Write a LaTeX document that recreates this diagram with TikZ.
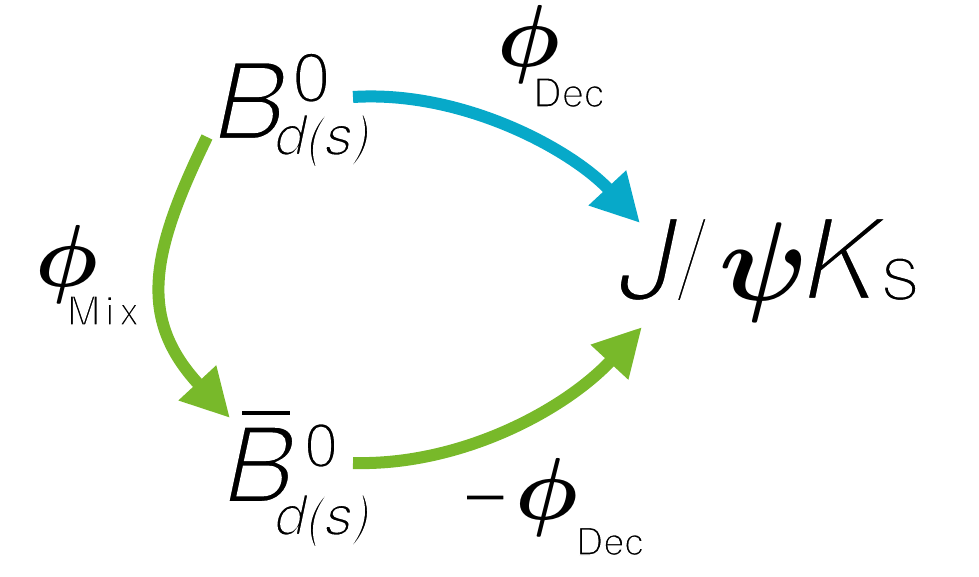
\documentclass[tikz,border=0pt]{standalone}
\usepackage{fontspec}
\setmainfont{TeX Gyre Heros}
\usetikzlibrary{arrows.meta}
\definecolor{decblue}{RGB}{7,169,201}
\definecolor{mixgreen}{RGB}{120,185,42}
\newcommand\fsz[1]{\fontsize{#1}{#1}\selectfont}
% thin the sans glyphs (Helvetica Light look): white outline over the fill
\newcommand\lite[1]{\special{pdf:literal direct 2 Tr 1 1 1 RG #1 w}}
\font\phifont=cmmib10 at 88pt
\font\psifont=cmmib10 at 112pt
\newcommand\myphi{{\phifont\char"1E}}
\newcommand\mypsi{{\psifont\char"20}}
\begin{document}
\begin{tikzpicture}[x=1pt,y=-1pt,
  lbl/.style={inner sep=0pt, outer sep=0pt, anchor=base west},
  flow/.style={line width=12pt, -{Triangle[length=48pt,width=48pt]}}]
\useasboundingbox (0,0) rectangle (979,576);

% B^0_{d(s)}
\node[lbl] (b) at (214,140) {\lite{4}\fsz{108}\itshape B};
\node[lbl] (bsup) at (292,102) {\lite{2.6}\fsz{70}0};
\node[lbl] (bsub) at (275,155) {\lite{2.2}\fsz{56}\itshape d(s)};

% \bar B^0_{d(s)}
\node[lbl] (bb) at (224,503) {\lite{4}\fsz{106}\itshape B};
\draw[line width=3.5pt] (242,413) -- (290,413);
\node[lbl] (bbsup) at (304,467) {\lite{2.4}\fsz{62}0};
\node[lbl] (bbsub) at (275,535) {\lite{2.2}\fsz{56}\itshape d(s)};

% J/psi K_S
\node[lbl] (fj) at (619,300) {\lite{4.2}\fsz{114}\itshape J};
\node[lbl] (fsl) at (676,300) {\lite{4.2}\fsz{114}/};
\node[lbl] (fpsi) at (719,300) {\mypsi};
\node[lbl] (fk) at (803,300) {\lite{4.2}\fsz{114}\itshape K};
\node[lbl] (fs) at (881,300) {\lite{2.2}\fsz{57}S};

% phi labels
\node[lbl] (pd) at (497,66) {\myphi};
\node[lbl] (pdsub) at (533,107) {\lite{1.5}\fsz{40}Dec};
\node[lbl] (pm) at (35,286) {\myphi};
\node[lbl] (pmsub) at (67,325) {\lite{1.5}\fsz{40}M\kern5pt i\kern5pt x};
\node[lbl] (mn) at (460,519) {\lite{2}\fsz{86}−};
\node[lbl] (pdb) at (515,519) {\myphi};
\node[lbl] (pdbsub) at (576,555) {\lite{1.4}\fsz{38}Dec};

% connector ends
\coordinate (bout) at (353,97);
\coordinate (fin1) at (640,223);
\coordinate (bmix) at (207,137);
\coordinate (bbin) at (230,418);
\coordinate (bbout) at (353,463);
\coordinate (fin2) at (642,327);

\draw[flow, decblue] (bout) .. controls (463,90) and (572,150) .. (fin1);
\draw[flow, mixgreen] (bmix) .. controls (151,252) and (137,318) .. (bbin);
\draw[flow, mixgreen] (bbout) .. controls (463,466) and (567,408) .. (fin2);
\end{tikzpicture}
\end{document}
